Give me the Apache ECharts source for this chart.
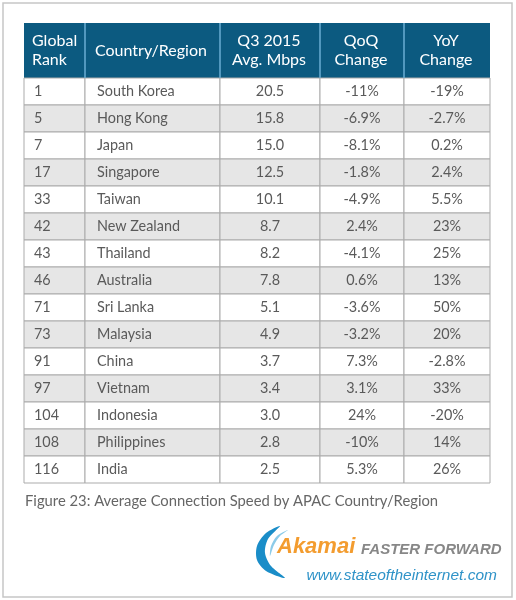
<!DOCTYPE html>
<html>
<head>
<meta charset="utf-8">
<script src="https://cdn.jsdelivr.net/npm/echarts@6/dist/echarts.min.js"></script>
<style>html,body{margin:0;padding:0;background:#fff;}#c{width:516px;height:600px;}</style>
</head>
<body>
<div id="c"></div>
<script>
var headers = ['Global\nRank', 'Country/Region', 'Q3 2015\nAvg. Mbps', 'QoQ\nChange', 'YoY\nChange'];
var ranks = [1, 5, 7, 17, 33, 42, 43, 46, 71, 73, 91, 97, 104, 108, 116];
var countries = ['South Korea', 'Hong Kong', 'Japan', 'Singapore', 'Taiwan', 'New Zealand', 'Thailand', 'Australia', 'Sri Lanka', 'Malaysia', 'China', 'Vietnam', 'Indonesia', 'Philippines', 'India'];
var mbps = [20.5, 15.8, 15.0, 12.5, 10.1, 8.7, 8.2, 7.8, 5.1, 4.9, 3.7, 3.4, 3.0, 2.8, 2.5];
var qoq = [-11, -6.9, -8.1, -1.8, -4.9, 2.4, -4.1, 0.6, -3.6, -3.2, 7.3, 3.1, 24, -10, 5.3];
var yoy = [-19, -2.7, 0.2, 2.4, 5.5, 23, 25, 13, 50, 20, -2.8, 33, -20, 14, 26];
var caption = 'Figure 23: Average Connection Speed by APAC Country/Region';

// layout (column edges in table units)
var colEdges = [0, 61, 196, 296, 380, 466];
var FONT = 'Lato';

var bodyData = [];
ranks.forEach(function (r, i) {
  bodyData.push([0, i, String(r)]);
  bodyData.push([1, i, countries[i]]);
  bodyData.push([2, i, mbps[i].toFixed(1)]);
  bodyData.push([3, i, qoq[i] + '%']);
  bodyData.push([4, i, yoy[i] + '%']);
});
var headData = headers.map(function (h, c) { return [c, 0, h]; });

function cellText(c, x0, x1, cy, text, color, size, lh) {
  var left = c <= 1;
  return {
    type: 'text',
    style: {
      text: text,
      x: left ? x0 + (c === 0 ? 10 : 12) : (x0 + x1) / 2,
      y: cy,
      align: left ? 'left' : 'center',
      verticalAlign: 'middle',
      fill: color,
      font: 'normal ' + size + 'px ' + FONT,
      lineHeight: lh
    },
    z2: 10
  };
}

function renderBody(params, api) {
  var c = api.value(0), r = api.value(1);
  var label = bodyData[params.dataIndex][2];
  var p0 = api.coord([colEdges[c], r]);
  var p1 = api.coord([colEdges[c + 1], r]);
  var h = api.size([0, 1])[1];
  var y0 = p0[1] - h / 2;
  return {
    type: 'group',
    children: [
      {
        type: 'rect',
        shape: { x: p0[0], y: y0, width: p1[0] - p0[0], height: h },
        style: { fill: r % 2 === 0 ? '#ffffff' : '#e6e6e6', stroke: '#ababab', lineWidth: 1 }
      },
      cellText(c, p0[0], p1[0], p0[1], label, '#5a5a5a', 14.4, 18)
    ]
  };
}

function renderHead(params, api) {
  var c = api.value(0);
  var label = headData[params.dataIndex][2];
  var p0 = api.coord([colEdges[c], 0]);
  var p1 = api.coord([colEdges[c + 1], 0]);
  var h = api.size([0, 1])[1];
  var y0 = p0[1] - h / 2;
  var children = [
    {
      type: 'rect',
      shape: { x: p0[0], y: y0, width: p1[0] - p0[0], height: h },
      style: { fill: '#0c5a80' }
    },
    cellText(c, p0[0] - 2, p1[0], p0[1], label, '#ffffff', 16, 19)
  ];
  if (c > 0) {
    children.push({
      type: 'line',
      shape: { x1: p0[0], y1: y0, x2: p0[0], y2: y0 + h },
      style: { stroke: '#6aaed3', lineWidth: 1.5 },
      z2: 5
    });
  }
  return { type: 'group', children: children };
}

var chart = echarts.init(document.getElementById('c'), null, { renderer: 'canvas' });
chart.setOption({
  animation: false,
  title: {
    text: caption,
    left: 25, top: 494, padding: 0,
    textStyle: { fontFamily: FONT, fontSize: 14.8, fontWeight: 'normal', color: '#666666' }
  },
  grid: [
    { left: 24, right: 26, top: 23, height: 55 },
    { left: 24, right: 26, top: 78, bottom: 117 }
  ],
  xAxis: [
    { type: 'value', gridIndex: 0, min: 0, max: 466, show: false },
    { type: 'value', gridIndex: 1, min: 0, max: 466, show: false }
  ],
  yAxis: [
    { type: 'category', gridIndex: 0, data: ['header'], show: false },
    { type: 'category', gridIndex: 1, data: countries, inverse: true, show: false }
  ],
  series: [
    {
      type: 'custom', xAxisIndex: 0, yAxisIndex: 0,
      renderItem: renderHead, data: headData,
      encode: { x: 0, y: 1 }, silent: true
    },
    {
      type: 'custom', xAxisIndex: 1, yAxisIndex: 1,
      renderItem: renderBody, data: bodyData,
      encode: { x: 0, y: 1 }, silent: true
    }
  ],
  graphic: [
    {
      type: 'rect', shape: { x: 3, y: 3, width: 509, height: 594 },
      style: { fill: 'none', stroke: '#c6c6c6', lineWidth: 1.5 }, z: -1
    },
    {
      type: 'polygon',
      shape: { points: [[280, 526], [266, 533], [257, 546], [257, 560], [266, 571], [285, 578],
                        [271, 566], [265, 553], [268, 539]], smooth: 0.3 },
      style: { fill: '#1a8dc8' }
    },
    {
      type: 'polygon',
      shape: { points: [[288, 530], [277, 536], [271, 546], [270, 556], [274, 545], [280, 536]], smooth: 0.3 },
      style: { fill: '#8ccbe9' }
    },
    {
      type: 'text',
      style: { text: 'Akamai', x: 277, y: 558, verticalAlign: 'bottom', fill: '#f39c2f',
        font: 'italic bold 22px "Liberation Sans"' }
    },
    {
      type: 'text',
      style: { text: 'FASTER FORWARD', x: 361, y: 557, verticalAlign: 'bottom', fill: '#878787',
        font: 'italic bold 15px "Liberation Sans"' }
    },
    {
      type: 'text',
      style: { text: 'www.stateoftheinternet.com', x: 497, y: 576, align: 'right', verticalAlign: 'middle',
        fill: '#2f93c8', font: 'italic normal 15.5px "Liberation Sans"' }
    }
  ]
});
</script>
</body>
</html>
